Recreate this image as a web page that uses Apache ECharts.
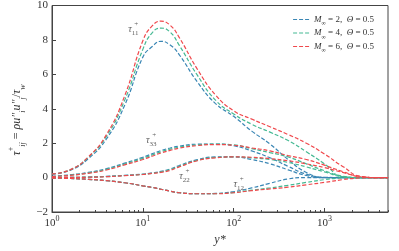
<!DOCTYPE html>
<html><head><meta charset="utf-8">
<script src="https://cdn.jsdelivr.net/npm/echarts@6/dist/echarts.min.js"></script>
<style>html,body{margin:0;padding:0;background:#fff}#c{width:399px;height:251px}</style>
</head><body><div id="c"></div>
<script>
// y* sample positions
const yPlus = [1, 1.58, 2.51, 3.98, 6.31, 10, 12.6, 15.8, 20, 25.1, 39.8, 63.1, 100, 158, 251, 398, 631, 1000, 1585, 2512, 3981, 5012];
// tau11
const tau11_M2 = [0.2, 0.42, 1.1, 2.25, 4.2, 7.0, 7.6, 7.92, 7.7, 7.15, 5.56, 4.3, 3.56, 2.7, 1.95, 1.05, 0.3, 0.0, 0, 0, 0, 0];
const tau11_M4 = [0.22, 0.45, 1.18, 2.4, 4.5, 7.45, 8.4, 8.69, 8.45, 7.7, 5.95, 4.5, 3.7, 3.1, 2.64, 2.15, 1.5, 0.8, 0.05, 0, 0, 0];
const tau11_M6 = [0.22, 0.45, 1.2, 2.5, 4.75, 7.95, 8.8, 9.09, 8.85, 8.15, 6.3, 4.8, 3.88, 3.4, 2.95, 2.5, 2.0, 1.37, 0.65, 0.07, 0, 0];
// tau33
const tau33_M2 = [0.07, 0.16, 0.3, 0.52, 0.84, 1.18, 1.38, 1.57, 1.72, 1.83, 1.94, 1.95, 1.85, 1.55, 1.15, 0.65, 0.2, 0.02, 0, 0, 0, 0];
const tau33_M4 = [0.06, 0.14, 0.27, 0.48, 0.79, 1.12, 1.31, 1.5, 1.65, 1.77, 1.9, 1.94, 1.9, 1.68, 1.45, 1.2, 0.8, 0.4, 0.08, 0, 0, 0];
const tau33_M6 = [0.06, 0.13, 0.25, 0.44, 0.74, 1.05, 1.24, 1.43, 1.58, 1.71, 1.86, 1.92, 1.88, 1.72, 1.55, 1.28, 1.05, 0.72, 0.35, 0.06, 0, 0];
// tau22
const tau22_M2 = [0, 0.01, 0.03, 0.07, 0.13, 0.2, 0.27, 0.36, 0.5, 0.7, 1.04, 1.2, 1.2, 1.05, 0.8, 0.45, 0.12, 0, 0, 0, 0, 0];
const tau22_M4 = [0, 0.01, 0.03, 0.06, 0.12, 0.19, 0.25, 0.33, 0.46, 0.66, 1.0, 1.17, 1.2, 1.15, 1.05, 0.88, 0.62, 0.33, 0.05, 0, 0, 0];
const tau22_M6 = [0, 0.01, 0.02, 0.05, 0.11, 0.18, 0.24, 0.3, 0.42, 0.62, 0.98, 1.15, 1.2, 1.18, 1.1, 0.98, 0.8, 0.58, 0.3, 0.05, 0, 0];
// tau12
const tau12_M2 = [-0.03, -0.05, -0.1, -0.18, -0.3, -0.48, -0.57, -0.68, -0.79, -0.88, -0.94, -0.92, -0.82, -0.6, -0.33, -0.08, 0, 0, 0, 0, 0, 0];
const tau12_M4 = [-0.03, -0.05, -0.1, -0.18, -0.3, -0.48, -0.57, -0.68, -0.79, -0.88, -0.94, -0.93, -0.87, -0.73, -0.6, -0.45, -0.28, -0.12, -0.02, 0, 0, 0];
const tau12_M6 = [-0.03, -0.05, -0.1, -0.18, -0.3, -0.48, -0.57, -0.68, -0.79, -0.88, -0.94, -0.94, -0.88, -0.76, -0.66, -0.56, -0.42, -0.28, -0.12, -0.02, 0, 0];

const caseNames = ['M2', 'M4', 'M6'];
const machValues = ['2', '4', '6'];
const caseColors = ['#3a86b4', '#45b993', '#f0484c'];
const xMajorTicks = [1, 10, 100, 1000];
const xMinorTicks = [2,3,4,5,6,7,8,9,20,30,40,50,60,70,80,90,200,300,400,500,600,700,800,900,2000,3000,4000,5000];
const annotations = [
  {sub: '11', x: 7.85, y: 8.6},
  {sub: '33', x: 12.4, y: 2.15},
  {sub: '22', x: 28.7, y: 0.08},
  {sub: '12', x: 113.5, y: -0.39}
];

const groups = [
  [tau11_M2, tau33_M2, tau22_M2, tau12_M2],
  [tau11_M4, tau33_M4, tau22_M4, tau12_M4],
  [tau11_M6, tau33_M6, tau22_M6, tau12_M6]
];

const serif = 'Liberation Serif';
const series = [];
groups.forEach((g, ci) => {
  g.forEach((arr) => {
    series.push({
      type: 'line', name: caseNames[ci], xAxisIndex: 0, yAxisIndex: 0,
      data: yPlus.map((x, i) => [x, arr[i]]),
      showSymbol: false, symbol: 'none', smooth: 0.5,
      lineStyle: {color: caseColors[ci], width: 1.2, type: [4, 2]},
      itemStyle: {color: caseColors[ci]},
      z: 2 + ci, silent: true, animation: false
    });
  });
});
// annotation labels
series.push({
  type: 'scatter', xAxisIndex: 0, yAxisIndex: 0, symbolSize: 0, silent: true, animation: false,
  data: annotations.map(a => ({value: [a.x, a.y], sub: a.sub})),
  label: {
    show: true, position: 'inside',
    formatter: p => '{t|τ}{s|' + p.data.sub + '}',
    rich: {
      t: {fontFamily: serif, fontStyle: 'italic', fontSize: 10, color: '#333', lineHeight: 12, verticalAlign: 'middle'},
      s: {fontFamily: serif, fontSize: 7, color: '#333', lineHeight: 15, verticalAlign: 'bottom'}
    }
  }
});
series.push({
  type: 'scatter', xAxisIndex: 0, yAxisIndex: 0, symbolSize: 0, silent: true, animation: false,
  data: annotations.map(a => ({value: [a.x, a.y]})),
  label: {show: true, position: 'inside', offset: [3, -5], formatter: '+',
    fontFamily: serif, fontSize: 7, color: '#333'}
});

const chart = echarts.init(document.getElementById('c'), null, {renderer: 'canvas'});
chart.setOption({
  animation: false,
  backgroundColor: '#fff',
  grid: {left: 52, right: 11, top: 5, bottom: 38, show: true, borderColor: '#444', borderWidth: 1},
  legend: {
    orient: 'vertical', right: 20, top: 10, itemGap: 2, itemWidth: 16, itemHeight: 2,
    icon: 'path://M0,0h4v1h-4z M6,0h4v1h-4z M12,0h4v1h-4z',
    data: caseNames,
    formatter: n => {
      const i = caseNames.indexOf(n);
      return '{i|M}{s|∞}{r| = ' + machValues[i] + ',  }{i|Θ}{r| = 0.5}';
    },
    textStyle: {
      rich: {
        i: {fontFamily: serif, fontStyle: 'italic', fontSize: 9, color: '#333', lineHeight: 11},
        s: {fontFamily: serif, fontSize: 6, color: '#333', lineHeight: 14, verticalAlign: 'bottom'},
        r: {fontFamily: serif, fontSize: 9, color: '#333', lineHeight: 11}
      }
    }
  },
  xAxis: [{
    type: 'log', logBase: 10, min: 1, max: 5000, position: 'bottom',
    name: 'y*', nameLocation: 'middle', nameGap: 22,
    nameTextStyle: {fontFamily: serif, fontStyle: 'italic', fontSize: 12, color: '#333'},
    axisLine: {show: true, onZero: false, lineStyle: {color: '#444', width: 1}},
    axisTick: {show: true, inside: true, length: 4, customValues: xMajorTicks, lineStyle: {color: '#444'}},
    axisLabel: {
      customValues: xMajorTicks, margin: 3,
      formatter: v => '{b|10}{p|' + Math.round(Math.log10(v)) + '}',
      rich: {
        b: {fontFamily: serif, fontSize: 11, color: '#333', lineHeight: 14, verticalAlign: 'bottom'},
        p: {fontFamily: serif, fontSize: 8, color: '#333', lineHeight: 14, verticalAlign: 'top'}
      }
    },
    splitLine: {show: false}
  }, {
    type: 'log', logBase: 10, min: 1, max: 5000, position: 'bottom', gridIndex: 0,
    axisLine: {show: false, onZero: false},
    axisTick: {show: true, inside: true, length: 2, customValues: xMinorTicks, lineStyle: {color: '#444'}},
    axisLabel: {show: false},
    splitLine: {show: false}
  }],
  yAxis: [{
    type: 'value', min: -2, max: 10, interval: 2,
    axisLine: {show: true, onZero: false, lineStyle: {color: '#444', width: 1}},
    axisTick: {show: true, inside: true, length: 4, lineStyle: {color: '#444'}},
    axisLabel: {fontFamily: serif, fontSize: 11, color: '#333', margin: 4,
      formatter: v => (v < 0 ? '\u2212' + Math.abs(v) : String(v))},
    splitLine: {show: false}
  }],
  graphic: [{
    type: 'text', x: 17, y: 120, rotation: Math.PI / 2,
    style: {
      text: '{t|τ}{p|+}{s|ij}{r| = }{t|ρu″}{s|i}{t|u″}{s|j}{r|/}{t|τ}{s|w}',
      align: 'center', verticalAlign: 'middle',
      rich: {
        t: {fontFamily: serif, fontStyle: 'italic', fontSize: 12, fill: '#333', lineHeight: 14},
        r: {fontFamily: serif, fontSize: 12, fill: '#333', lineHeight: 14},
        s: {fontFamily: serif, fontStyle: 'italic', fontSize: 8, fill: '#333', lineHeight: 20, verticalAlign: 'bottom'},
        p: {fontFamily: serif, fontSize: 8, fill: '#333', lineHeight: 20, verticalAlign: 'top'}
      }
    }
  }],
  series: series
});
</script></body></html>
